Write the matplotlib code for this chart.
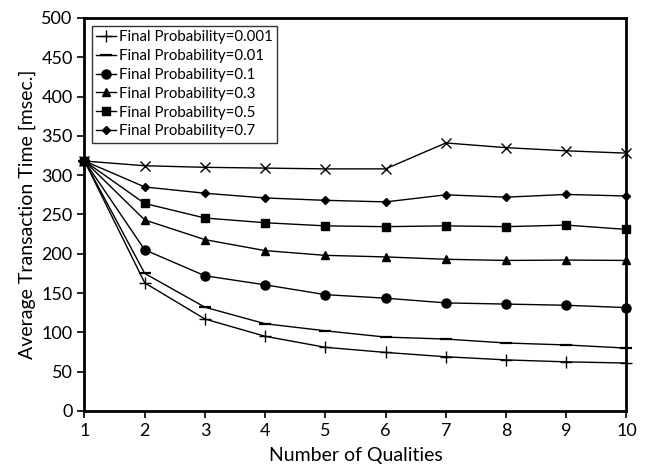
import matplotlib
matplotlib.use("Agg")
import matplotlib.pyplot as plt
import numpy as np

plt.rcParams['font.family'] = ['Lato', 'DejaVu Sans']

qualities = np.arange(1, 11)

# average transaction time [msec.] per final probability
p0001 = [318, 163, 117, 95, 81, 74.5, 69, 65, 62.5, 61]
p001 = [318, 175, 132, 111, 102, 94, 91.5, 86.5, 84, 80]
p01 = [318, 205, 172, 160.5, 148, 143.5, 137.5, 136, 134.5, 131.5]
p03 = [318, 243, 218, 204, 198, 196, 193, 191.5, 192, 191.5]
p05 = [318, 264, 245.5, 239.5, 235.5, 234.5, 235.5, 234.5, 236.5, 231]
p07 = [318, 285, 277, 271, 268, 266, 275, 272, 275.5, 273.5]
p_top = [318, 312, 310, 309, 308, 308, 341, 335, 331, 328]

series = [
    (p0001, '+', 8, 'Final Probability=0.001'),
    (p001, '_', 8, 'Final Probability=0.01'),
    (p01, 'o', 6.5, 'Final Probability=0.1'),
    (p03, '^', 6, 'Final Probability=0.3'),
    (p05, 's', 5.5, 'Final Probability=0.5'),
    (p07, 'D', 4.5, 'Final Probability=0.7'),
]

fig = plt.figure(figsize=(6.47, 4.69), dpi=100)
ax = fig.add_axes([0.1306, 0.1237, 0.8377, 0.8380])

for vals, mk, ms, lab in series:
    ax.plot(qualities, vals, color='black', linewidth=1, marker=mk,
            markersize=ms, markeredgewidth=1.6 if mk == '_' else 1,
            label=lab, clip_on=False, zorder=3)
ax.plot(qualities, p_top, color='black', linewidth=1, marker='x',
        markersize=7, markeredgewidth=1, clip_on=False, zorder=3)

ax.set_xlim(1, 10)
ax.set_ylim(0, 500)
ax.set_xticks(qualities)
ax.set_yticks(np.arange(0, 501, 50))
ax.tick_params(axis='both', direction='out', length=5, width=1.2,
               labelsize=13, colors='black')
for s in ax.spines.values():
    s.set_linewidth(2)
    s.set_color('black')

ax.set_xlabel('Number of Qualities', fontsize=14, labelpad=6)
ax.set_ylabel('Average Transaction Time [msec.]', fontsize=14)

leg = ax.legend(loc='upper left', bbox_to_anchor=(0.013, 0.98), fontsize=10.8,
                frameon=True, fancybox=False, edgecolor='black',
                handlelength=1.3, handletextpad=0.2, labelspacing=0.32,
                borderpad=0.3, borderaxespad=0)
leg.get_frame().set_linewidth(1)

fig.savefig('out.png', dpi=100)
